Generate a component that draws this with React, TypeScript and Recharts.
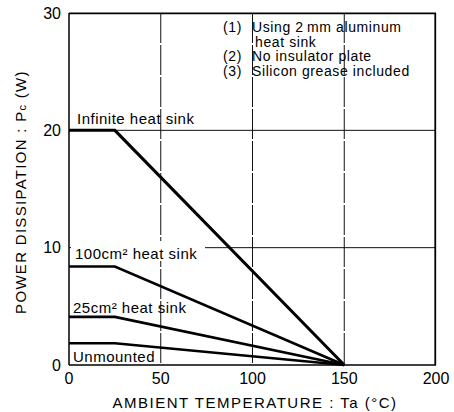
import { LineChart, Line, XAxis, YAxis, CartesianGrid } from 'recharts'

// Power dissipation derating curves (Pc in W vs ambient temperature Ta in °C)
const temps = [0, 25, 150]
const infinite = [20, 20, 0]
const sink100 = [8.4, 8.4, 0]
const sink25 = [4.1, 4.1, 0]
const unmounted = [1.85, 1.85, 0]

const xTicks = [0, 50, 100, 150, 200]
const yTicks = [0, 10, 20, 30]

const notes: [string, string][] = [
  ['(1)', 'Using 2\u2009mm aluminum'],
  ['', 'heat sink'],
  ['(2)', 'No insulator plate'],
  ['(3)', 'Silicon grease included'],
]

const data = temps.map((ta, i) => ({
  ta,
  infinite: infinite[i],
  sink100: sink100[i],
  sink25: sink25[i],
  unmounted: unmounted[i],
}))

const FONT = '"Liberation Sans", Arial, sans-serif'
const W = 454
const H = 412
const MARGIN = { top: 13, right: 18, left: 0, bottom: 0 }
const Y_AXIS_W = 69
const X_AXIS_H = 47

const tickStyle = { fontSize: 16, fill: '#000', fontFamily: FONT }
const frame = { stroke: '#000', strokeWidth: 1.5 }

function Overlay() {
  const label = { fontSize: 15, letterSpacing: 0.5, fill: '#000', fontFamily: FONT }
  return (
    <svg
      width={W}
      height={H}
      style={{ position: 'absolute', left: 0, top: 0, pointerEvents: 'none' }}
    >
      {/* notes box, top right */}
      {notes.map(([num, text], i) => {
        const y = 32 + i * 14.5
        return (
          <g key={i} style={{ fontSize: 14, letterSpacing: 0.6, fontFamily: FONT }}>
            {num && <text x={223} y={y} fill="#000">{num}</text>}
            <text x={i === 1 ? 255 : 252} y={y} fill="#000">{text}</text>
          </g>
        )
      })}

      <text x={77} y={124} style={label}>Infinite heat sink</text>

      <rect x={71} y={241} width={134} height={20} fill="#fff" />
      <text x={75} y={259} style={label}>100cm² heat sink</text>

      <text x={73} y={313} style={label}>25cm² heat sink</text>
      <text x={73} y={362} style={label}>Unmounted</text>

      {/* axis titles */}
      <text
        x={255}
        y={408}
        textAnchor="middle"
        style={{ fontSize: 15, letterSpacing: 1.5, fill: '#000', fontFamily: FONT }}
      >
        AMBIENT TEMPERATURE : Ta (°C)
      </text>
      <text
        x={26}
        y={192}
        textAnchor="middle"
        transform="rotate(-90, 26, 192)"
        style={{ fontSize: 15, letterSpacing: 1.3, fill: '#000', fontFamily: FONT }}
      >
        POWER DISSIPATION : P<tspan fontSize={11}>c</tspan> (W)
      </text>
    </svg>
  )
}

export default function App() {
  return (
    <div
      style={{
        position: 'absolute',
        left: 0,
        top: 0,
        width: W,
        height: H,
        background: '#fff',
        fontFamily: FONT,
      }}
    >
      <LineChart width={W} height={H} data={data} margin={MARGIN}>
        <CartesianGrid
          vertical={false}
          horizontalValues={[10, 20]}
          stroke="#111"
          strokeWidth={1}
        />
        <CartesianGrid
          horizontal={false}
          verticalValues={[50, 100, 150]}
          stroke="#111"
          strokeWidth={1}
          strokeDasharray="30 2"
        />
        {/* top and right edges of the frame, a hair inside the plot box */}
        <CartesianGrid
          horizontalValues={[29.96]}
          verticalValues={[199.6]}
          stroke="#000"
          strokeWidth={1.8}
        />
        <XAxis
          dataKey="ta"
          type="number"
          domain={[0, 200]}
          ticks={xTicks}
          height={X_AXIS_H}
          tickLine={false}
          axisLine={frame}
          tick={tickStyle}
          interval={0}
        />
        <YAxis
          type="number"
          domain={[0, 30]}
          ticks={yTicks}
          width={Y_AXIS_W}
          tickLine={false}
          axisLine={frame}
          tick={tickStyle}
          interval={0}
        />
        <Line dataKey="infinite" stroke="#000" strokeWidth={3} dot={false} isAnimationActive={false} />
        <Line dataKey="sink100" stroke="#000" strokeWidth={2.6} dot={false} isAnimationActive={false} />
        <Line dataKey="sink25" stroke="#000" strokeWidth={2.6} dot={false} isAnimationActive={false} />
        <Line dataKey="unmounted" stroke="#000" strokeWidth={2.4} dot={false} isAnimationActive={false} />
      </LineChart>
      <Overlay />
    </div>
  )
}
